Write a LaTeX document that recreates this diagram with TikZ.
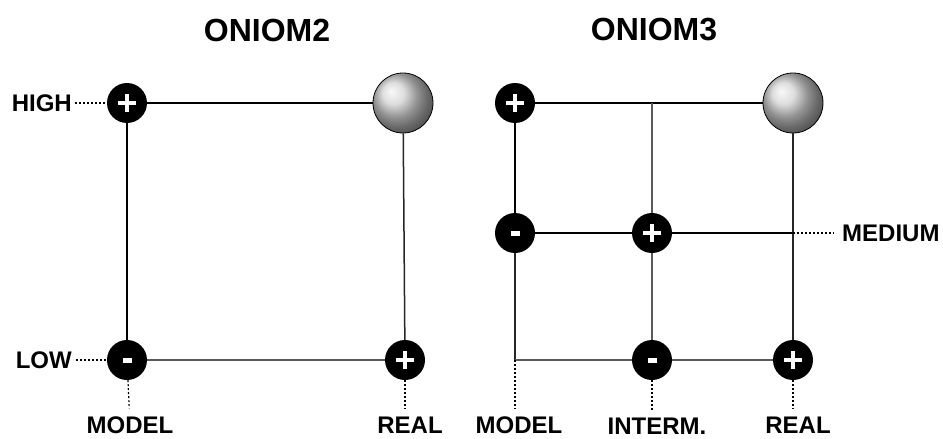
\documentclass[tikz,border=0pt]{standalone}
\usepackage{fontspec}
\setmainfont{Liberation Sans}
\begin{document}
\begin{tikzpicture}[x=1pt,y=-1pt,
  dot/.style={circle,fill=black,minimum size=40pt,inner sep=0pt},
  plusnode/.style={dot,path picture={
     \fill[white] ([xshift=-9pt,yshift=-2pt]path picture bounding box.center) rectangle ([xshift=9pt,yshift=2pt]path picture bounding box.center);
     \fill[white] ([xshift=-2pt,yshift=-9pt]path picture bounding box.center) rectangle ([xshift=2pt,yshift=9pt]path picture bounding box.center);}},
  minusnode/.style={dot,path picture={
     \fill[white] ([xshift=-4.5pt,yshift=-2.5pt]path picture bounding box.center) rectangle ([xshift=4.5pt,yshift=2.5pt]path picture bounding box.center);}},
  sphere/.style={circle,minimum size=60pt,inner sep=0pt,shading=ball,ball color=gray!35,draw=black,line width=0.8pt},
  lbl/.style={font=\bfseries\fontsize{24}{24}\selectfont,inner sep=0pt},
  ttl/.style={font=\bfseries\fontsize{32}{32}\selectfont,inner sep=0pt},
  thk/.style={line width=1.8pt,black},
  thn/.style={line width=1.2pt,black!65},
  med/.style={line width=1.5pt,black!85},
  dotl/.style={line width=1.2pt,dash pattern=on 2pt off 2pt},
]
\useasboundingbox (0,0) rectangle (943,439);
\fill[white] (0,0) rectangle (943,439);

% titles
\node[ttl] (t2) at (267,30) {ONIOM2};
\node[ttl] (t3) at (654,30) {ONIOM3};

% ---------- ONIOM2 ----------
\node[sphere] (s2) at (403,103) {};
\coordinate (h2c) at (127,103);
\coordinate (l2c) at (127,360);
\coordinate (r2c) at (405,360);
\draw[thk] (h2c) -- (s2);
\draw[thk] (h2c) -- (l2c);
\draw[med] (s2) -- (r2c);
\draw[thn] (l2c) -- (r2c);
\node[plusnode] (h2) at (h2c) {};
\node[minusnode] (l2) at (l2c) {};
\node[plusnode] (r2) at (r2c) {};

\node[lbl,anchor=east] (high) at (72,103) {HIGH};
\node[lbl,anchor=east] (low) at (72,360) {LOW};
\node[lbl] (model2) at (130,425) {MODEL};
\node[lbl] (real2) at (410,425) {REAL};
\draw[dotl,shorten <=3pt] (high) -- (h2);
\draw[dotl,shorten <=4pt] (low) -- (l2);
\draw[dotl,shorten >=8pt] (l2) -- (model2);
\draw[dotl,shorten >=8pt] (r2.south) -- (r2.south |- real2.north);

% ---------- ONIOM3 ----------
\node[sphere] (s3) at (793,103) {};
\coordinate (h3c) at (515,103);
\coordinate (m3c) at (515,233);
\coordinate (p3c) at (652,233);
\coordinate (i3c) at (652,360);
\coordinate (r3c) at (793,360);
\coordinate (c3) at (515,360);
\coordinate (tp3) at (652,103);
\coordinate (e3) at (793,233);
\draw[thk] (h3c) -- (s3);
\draw[thk] (h3c) -- (m3c);
\draw[med] (m3c) -- (c3);
\draw[thn] (c3) -- (i3c);
\draw[thn] (i3c) -- (r3c);
\draw[med] (s3) -- (r3c);
\draw[thn] (tp3) -- (p3c);
\draw[thn] (p3c) -- (i3c);
\draw[thk] (m3c) -- (e3);
\node[plusnode] (h3) at (h3c) {};
\node[minusnode] (m3) at (m3c) {};
\node[plusnode] (p3) at (p3c) {};
\node[minusnode] (i3) at (i3c) {};
\node[plusnode] (r3) at (r3c) {};

\node[lbl,anchor=west] (medium) at (842,233) {MEDIUM};
\node[lbl] (model3) at (519,425) {MODEL};
\node[lbl] (interm) at (657,426) {INTERM.};
\node[lbl] (real3) at (798,425) {REAL};
\draw[dotl,shorten >=8pt] (e3) -- (medium);
\draw[dotl,shorten >=8pt] (c3) -- (c3 |- model3.north);
\draw[dotl,shorten >=8pt] (i3.south) -- (i3.south |- interm.north);
\draw[dotl,shorten >=8pt] (r3.south) -- (r3.south |- real3.north);
\end{tikzpicture}
\end{document}
